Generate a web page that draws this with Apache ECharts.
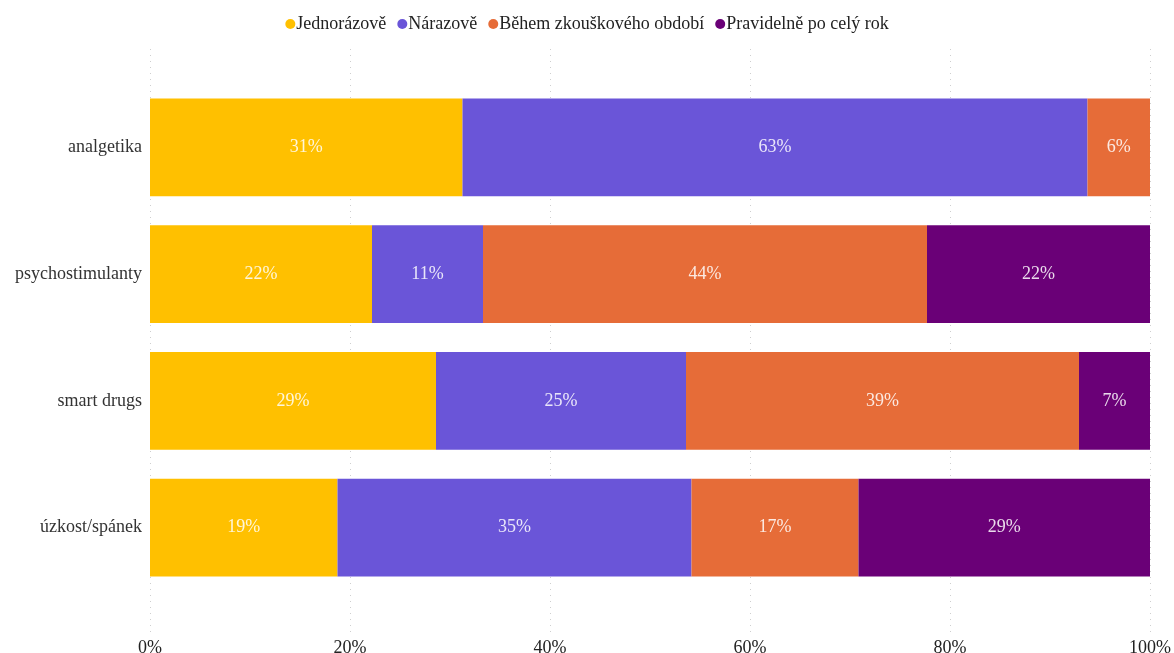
<!DOCTYPE html>
<html><head><meta charset="utf-8">
<script src="https://cdn.jsdelivr.net/npm/echarts@6/dist/echarts.min.js"></script>
<style>html,body{margin:0;padding:0;background:#fff}#c{width:1174px;height:653px}</style>
</head><body><div id="c"></div>
<script>
const categories = ['analgetika','psychostimulanty','smart drugs','úzkost/spánek'];
const seriesNames = ['Jednorázově','Nárazově','Během zkouškového období','Pravidelně po celý rok'];
const jednorazove = [31.25, 22.2, 28.6, 18.75];
const narazove = [62.5, 11.1, 25.0, 35.4];
const behemZkouskoveho = [6.25, 44.4, 39.3, 16.7];
const pravidelne = [0, 22.3, 7.1, 29.15];
const xTicks = [0,20,40,60,80,100];
const colors = ['#FFC000','#6A55D8','#E66C38','#6A0077'];
const font = '"Liberation Serif","Times New Roman",serif';
const values = [jednorazove, narazove, behemZkouskoveho, pravidelne];

const chart = echarts.init(document.getElementById('c'));
chart.setOption({
  animation:false,
  color: colors,
  textStyle:{fontFamily:font},
  legend:{
    top:10, left:'center', icon:'circle', itemWidth:10, itemHeight:10, itemGap:11,
    textStyle:{fontFamily:font, fontSize:18, color:'#222', padding:[0,0,0,-4]},
    data: seriesNames
  },
  grid:[
    {left:150, right:24, top:84, height:507, outerBoundsMode:'none', containLabel:false},
    {left:150, right:24, top:49, height:584, outerBoundsMode:'none', containLabel:false}
  ],
  xAxis:[
    {gridIndex:0, type:'value', min:0, max:100, interval:20, axisLabel:{show:false}, splitLine:{show:false}, axisLine:{show:false}, axisTick:{show:false}},
    {gridIndex:1, type:'value', min:0, max:100, interval:20,
      axisLabel:{formatter:v=>v+'%', fontFamily:font, fontSize:18, color:'#222', margin:6},
      splitLine:{show:true, lineStyle:{type:[1,5], color:'#cfcfcf', width:1}},
      axisLine:{show:false}, axisTick:{show:false}}
  ],
  yAxis:[
    {gridIndex:0, type:'category', inverse:true, data:categories,
      axisLabel:{fontFamily:font, fontSize:18, color:'#333', margin:8},
      axisLine:{show:false}, axisTick:{show:false}},
    {gridIndex:1, type:'value', show:false}
  ],
  series: seriesNames.map((name,i)=>({
    name, type:'bar', stack:'total', barWidth:'77%', xAxisIndex:0, yAxisIndex:0,
    data: values[i].map(v=>v===0?null:v),
    itemStyle:{color:colors[i]},
    label:{show:true, position:'inside', formatter:p=>Math.round(p.value)+'%',
      fontFamily:font, fontSize:18, color:'rgba(255,255,255,0.85)'}
  }))
});
</script></body></html>
